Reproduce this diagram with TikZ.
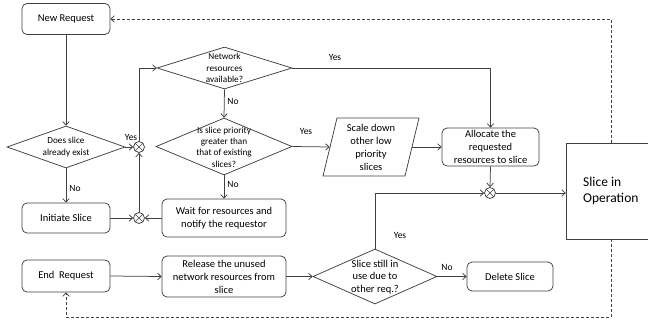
\documentclass[tikz,border=0pt]{standalone}
\usepackage{fontspec}
\setmainfont{Carlito}
\usetikzlibrary{arrows.meta,shapes.geometric}
\begin{document}
\begin{tikzpicture}[x=1pt,y=-1pt,
  ln/.style={draw=black!75, line width=0.75pt},
  arr/.style={ln, -{Straight Barb[length=3.5pt,width=6.5pt]}},
  dline/.style={ln, dash pattern=on 3pt off 2pt},
  darr/.style={dline, -{Straight Barb[length=3.5pt,width=6.5pt]}},
  rbox/.style={ln, rounded corners=5pt, inner sep=0pt, align=center, text=black,
    font=\fontsize{10.5}{13}\selectfont},
  dia/.style={diamond, ln, inner sep=0pt, shape aspect=1},
  dtxt/.style={align=center, inner sep=0pt, text=black, font=\fontsize{9.2}{11.3}\selectfont},
  lbl/.style={inner sep=0pt, text=black, font=\fontsize{9.5}{11}\selectfont},
  xc/.style={circle, ln, minimum size=11pt, inner sep=0pt,
    path picture={\draw[black!75, line width=0.6pt]
      (path picture bounding box.north west) -- (path picture bounding box.south east)
      (path picture bounding box.north east) -- (path picture bounding box.south west);}},
]
\useasboundingbox (0,0) rectangle (648,323);

% boxes
\node[rbox, minimum width=88pt, minimum height=31pt] (newreq) at (66,19) {New Request};
\node[rbox, minimum width=88pt, minimum height=30pt] (init) at (66,218) {Initiate Slice};
\node[rbox, minimum width=124pt, minimum height=38pt] (wait) at (224,218) {Wait for resources and\\notify the requestor};
\node[rbox, minimum width=88pt, minimum height=32pt] (endreq) at (66,276) {End\ \ Request};
\node[rbox, minimum width=124pt, minimum height=41pt] (release) at (224,276.5) {Release the unused\\network resources from\\slice};
\node[rbox, minimum width=97pt, minimum height=38pt] (alloc) at (490.5,147) {Allocate the\\requested\\resources to slice};
\node[rbox, minimum width=86pt, minimum height=29pt] (delete) at (510,276.5) {Delete Slice};

% diamonds
\node[dia, minimum width=118pt, minimum height=42pt] (exist) at (66,147) {};
\node[dtxt] (existt) at (66,147) {Does slice\\already exist};
\node[dia, minimum width=135pt, minimum height=42pt] (netres) at (224.5,68) {};
\node[dtxt] (netrest) at (224.5,68) {Network\\resources\\available?};
\node[dia, minimum width=136pt, minimum height=57pt] (prio) at (224,146.5) {};
\node[dtxt] (priot) at (224,147) {Is slice priority\\greater than\\that of existing\\slices?};
\node[dia, minimum width=124pt, minimum height=55pt] (still) at (375,276.5) {};
\node[dtxt, font=\fontsize{10.5}{12.5}\selectfont] (stillt) at (375,277) {Slice still in\\use due to\\other req.?};

% parallelogram
\draw[ln] (337,118) -- (419,118) -- (405,176) -- (323,176) -- cycle;
\node[rbox, draw=none, minimum width=82pt, minimum height=58pt] (scale) at (371,147) {Scale down\\other low\\priority\\slices};

% slice in operation
\node[minimum width=82pt, minimum height=96pt, inner sep=0pt] (op) at (607,191) {};
\draw[ln] (648,143) -- (566,143) -- (566,239) -- (648,239);
\node[align=left, inner sep=0pt, text=black, font=\fontsize{13.5}{16}\selectfont, anchor=west] (opt) at (583,191) {Slice in\\Operation};

% joins
\node[xc] (x1) at (139,147) {};
\node[xc] (x3) at (139,218) {};
\node[xc] (x2) at (490,193) {};

% connectors
\draw[arr] (newreq.south) -- (exist.north);
\draw[arr] (exist.south) -- (init.north);
\draw[arr] (exist.east) -- (x1.west);
\draw[arr] (init.east) -- (x3.west);
\draw[arr] (wait.west) -- (x3.east);
\draw[arr] (x3.north) -- (x1.south);
\draw[arr] (x1.north) |- (netres.west);
\draw[arr] (netres.east) -| (alloc.north);
\draw[arr] (netres.south) -- (prio.north);
\draw[arr] (prio.east) -- (scale.west);
\draw[arr] (prio.south) -- (wait.north);
\draw[arr] (scale.east) -- (alloc.west);
\draw[arr] (alloc.south) -- (x2.north);
\draw[arr] (x2.east) -- (x2.east -| op.west);
\draw[arr] (still.north) |- (x2.west);
\draw[arr] (still.east) -- (delete.west);
\draw[arr] (endreq.east) -- (release.west);
\draw[arr] (release.east) -- (still.west);

% dashed feedback
\coordinate (optop) at (611,143);
\coordinate (opbot) at (611,239);
\coordinate (dtop) at (611,19);
\coordinate (dbot) at (611,317);
\draw[darr] (optop) -- (dtop) -- (newreq.east);
\draw[darr] (opbot) -- (dbot) -| (endreq.south);

% labels
\node[lbl] (l1) at (131,137) {Yes};
\node[lbl] (l2) at (75,188) {No};
\node[lbl] (l3) at (335,57) {Yes};
\node[lbl] (l4) at (233,101) {No};
\node[lbl] (l5) at (306,131) {Yes};
\node[lbl] (l6) at (233,184) {No};
\node[lbl] (l7) at (400,235) {Yes};
\node[lbl] (l8) at (447,267) {No};
\end{tikzpicture}
\end{document}
